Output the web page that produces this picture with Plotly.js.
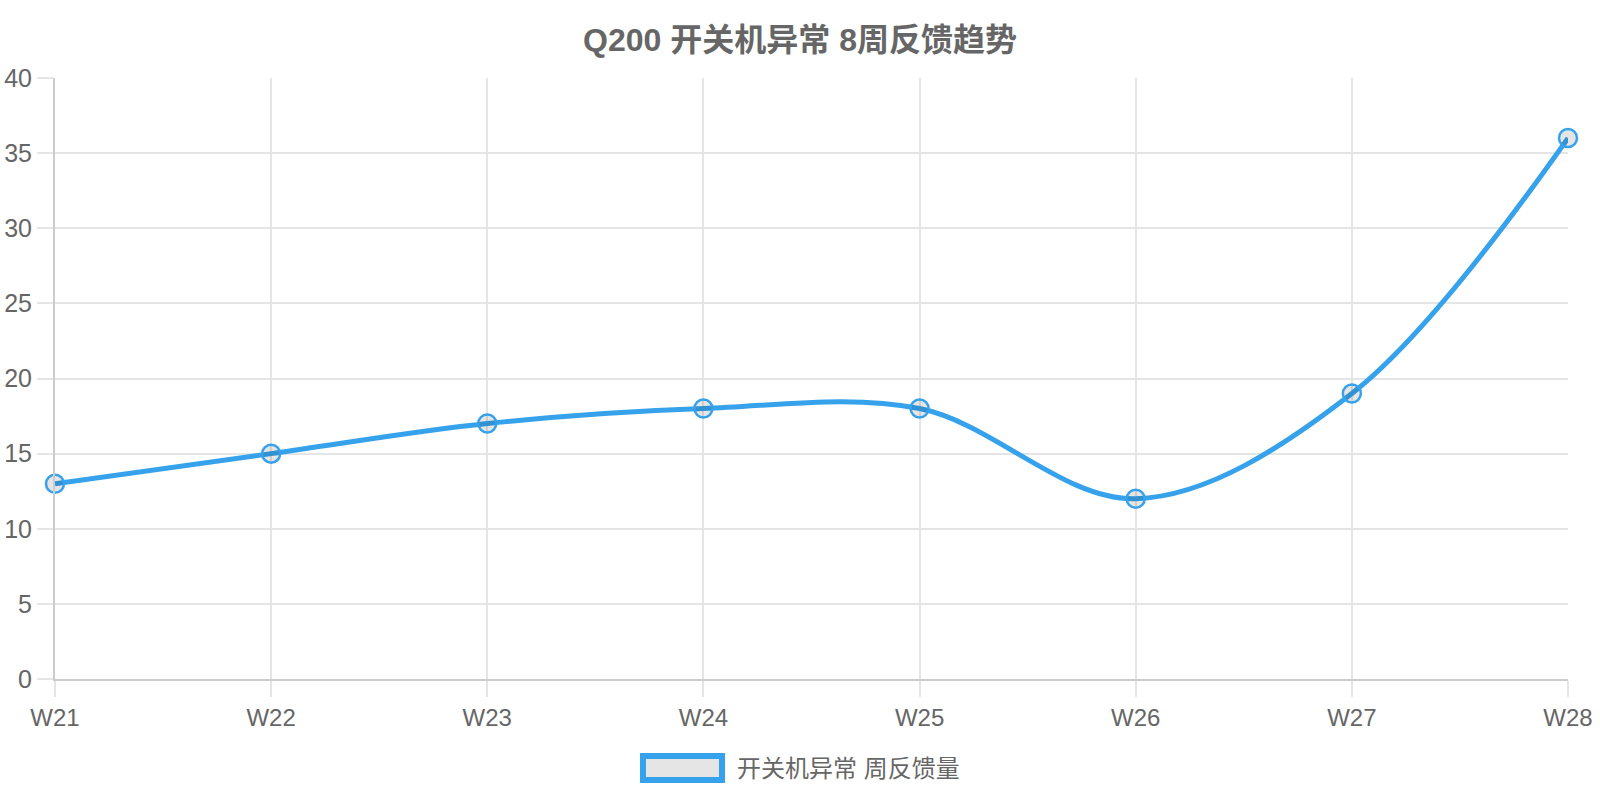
<!DOCTYPE html>
<html>
<head>
<meta charset="utf-8">
<script src="https://cdn.plot.ly/plotly-3.0.1.min.js"></script>
<style>
  html, body { margin: 0; padding: 0; background: #fff; }
  #chart { width: 1600px; height: 800px; }
</style>
</head>
<body>
<div id="chart"></div>
<script>
const weeks = ["W21", "W22", "W23", "W24", "W25", "W26", "W27", "W28"];
const feedbackCounts = [13, 15, 17, 18, 18, 12, 19, 36];
const seriesName = "开关机异常 周反馈量";
const chartTitle = "Q200 开关机异常 8周反馈趋势";

const fontFamily = "Liberation Sans, Arial, Noto Sans CJK SC, sans-serif";
const blue = "#36a2eb";
const grid = "#e5e5e5";

const trace = {
    x: weeks,
    y: feedbackCounts,
    type: "scatter",
    mode: "lines+markers",
    name: seriesName,
    cliponaxis: false,
    line: { color: blue, width: 5, shape: "spline", smoothing: 1 },
    marker: {
        size: 18,
        color: "rgba(0,0,0,0.1)",
        line: { color: blue, width: 2.5 }
    },
    hoverinfo: "x+y",
    showlegend: false
};

// plot area in pixels: x 55..1568, y 78..679
const L = 55, R = 1568, T = 78, B = 679;
const px = v => (v - L) / (R - L);
const py = v => (B - v) / (B - T);

const layout = {
    width: 1600,
    height: 800,
    margin: { l: L, r: 1600 - R, t: T, b: 800 - B },
    paper_bgcolor: "#fff",
    plot_bgcolor: "#fff",
    font: { family: fontFamily, color: "#666", size: 24 },
    title: {
        text: "<b>" + chartTitle + "</b>",
        font: { family: fontFamily, size: 32, color: "#666" },
        x: 0.5,
        xanchor: "center",
        y: 1 - 40 / 800,
        yanchor: "middle"
    },
    xaxis: {
        type: "category",
        range: [0, weeks.length - 1],
        showgrid: true,
        gridcolor: grid,
        gridwidth: 1.5,
        showline: true,
        linecolor: "#cccccc",
        linewidth: 2,
        ticks: "outside",
        ticklen: 16,
        tickwidth: 1.5,
        tickcolor: grid,
        tickfont: { size: 24, color: "#666" },
        fixedrange: true,
        zeroline: false
    },
    yaxis: {
        range: [0, 40],
        dtick: 5,
        showgrid: true,
        gridcolor: grid,
        gridwidth: 1.5,
        showline: true,
        linecolor: "#cccccc",
        linewidth: 2,
        ticks: "outside",
        ticklen: 16,
        tickwidth: 1.5,
        tickcolor: grid,
        tickfont: { size: 25, color: "#666" },
        fixedrange: true,
        zeroline: false
    },
    shapes: [{
        type: "rect",
        xref: "paper",
        yref: "paper",
        x0: px(643), x1: px(722),
        y0: py(756), y1: py(780),
        fillcolor: "#e5e5e5",
        line: { color: blue, width: 6 }
    }],
    annotations: [{
        xref: "paper",
        yref: "paper",
        x: px(735),
        y: py(768),
        xanchor: "left",
        yanchor: "middle",
        showarrow: false,
        text: seriesName,
        font: { family: fontFamily, size: 24, color: "#666" }
    }]
};

Plotly.newPlot("chart", [trace], layout, { displayModeBar: false, responsive: false });
</script>
</body>
</html>
